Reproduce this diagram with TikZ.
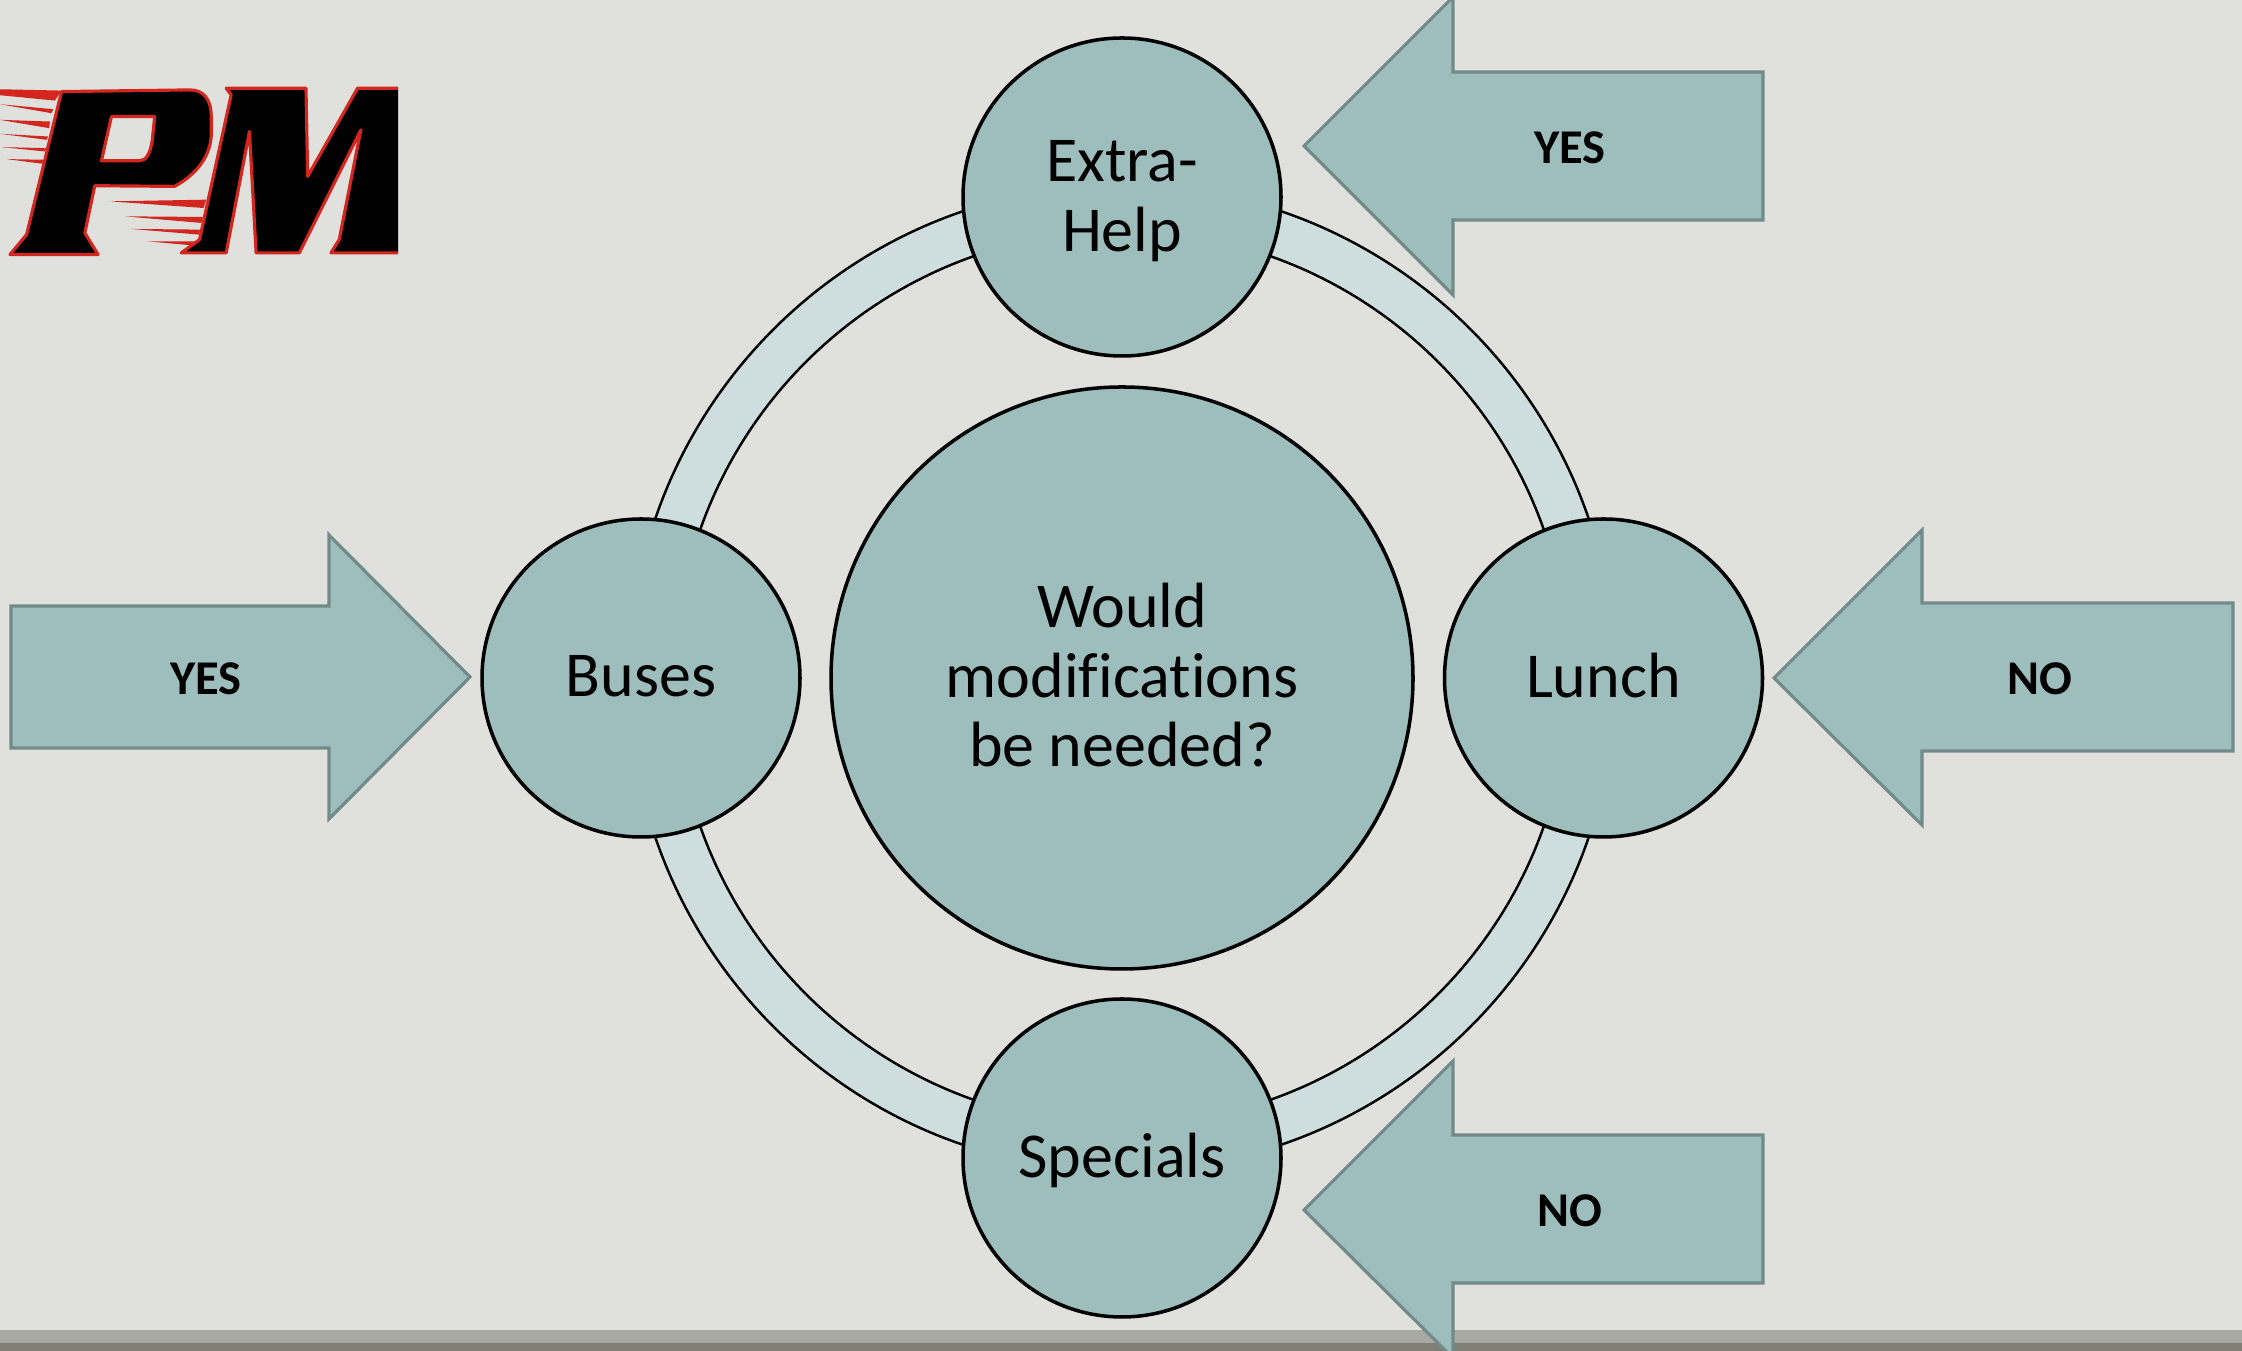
\documentclass[tikz,border=0pt]{standalone}
\usepackage{fontspec, tkz-euclide}
\setmainfont[Ligatures=NoCommon]{Carlito}
\definecolor{pagebg}{HTML}{E0E1DC}
\definecolor{tealfill}{HTML}{9DBEBD}
\definecolor{tealline}{HTML}{728A89}
\definecolor{ringfill}{HTML}{CEDEDE}
\definecolor{logored}{HTML}{D2261F}
\definecolor{barlight}{HTML}{A9A9A3}
\definecolor{bardark}{HTML}{7F7F75}
\tikzset{
  bigtext/.style={font=\fontsize{18.2}{19.9}\selectfont, align=center},
  topic/.style={circle, draw=black, line width=1pt, fill=tealfill, inner sep=0pt, minimum size=3.18cm, bigtext},
  answer/.style={font=\fontsize{13.8}{16}\selectfont\bfseries},
  arrowbox/.style={draw=tealline, line width=0.9pt, fill=tealfill, line join=miter},
  logoline/.style={draw=logored, line width=0.9pt, fill=black, line join=round}
}
\begin{document}
\begin{tikzpicture}
\useasboundingbox (0,0) rectangle (22.42,13.51);
\fill[pagebg] (0,0) rectangle (22.42,13.51);
\fill[barlight] (0,0) rectangle (22.42,0.21);
\fill[bardark] (0,0) rectangle (22.42,0.08);
\tkzDefPoints{11.22/6.73/O}
\draw[fill=ringfill, even odd rule, line width=0.7pt] (O) circle (4.93) (O) circle (4.47);
\node[topic, minimum size=5.82cm] (center) at (O) {Would\\modifications\\be needed?\rule[-1.8pt]{0pt}{0pt}};
\node[topic] (help) at (11.22,11.54) {\rule{0pt}{14.2pt}Extra-\\Help};
\node[topic] (specials) at (11.22,1.93) {\rule{0pt}{14pt}Specials};
\node[topic] (buses) at (6.41,6.73) {Buses\rule[-1pt]{0pt}{0pt}};
\node[topic] (lunch) at (16.035,6.73) {Lunch\rule[-1.5pt]{0pt}{0pt}};
\tkzDefPoints{13.04/12.05/Ta, 14.53/13.54/Tb, 14.53/12.79/Tc, 17.63/12.79/Td, 17.63/11.31/Te, 14.53/11.31/Tf, 14.53/10.56/Tg}
\tkzDefPoints{13.04/1.41/Ba, 14.53/2.90/Bb, 14.53/2.16/Bc, 17.63/2.16/Bd, 17.63/0.68/Be, 14.53/0.68/Bf, 14.53/-0.07/Bg}
\tkzDefPoints{17.74/6.73/Ra, 19.22/8.21/Rb, 19.22/7.48/Rc, 22.33/7.48/Rd, 22.33/6.00/Re, 19.22/6.00/Rf, 19.22/5.26/Rg}
\tkzDefPoints{4.70/6.74/La, 3.29/8.16/Lb, 3.29/7.45/Lc, 0.11/7.45/Ld, 0.11/6.03/Le, 3.29/6.03/Lf, 3.29/5.32/Lg}
\tkzDrawPolygon[arrowbox](Ta,Tb,Tc,Td,Te,Tf,Tg)
\tkzDrawPolygon[arrowbox](Ba,Bb,Bc,Bd,Be,Bf,Bg)
\tkzDrawPolygon[arrowbox](Ra,Rb,Rc,Rd,Re,Rf,Rg)
\tkzDrawPolygon[arrowbox](La,Lb,Lc,Ld,Le,Lf,Lg)
\node[answer] (yestop) at (15.70,12.03) {YES};
\node[answer] (nobottom) at (15.70,1.40) {NO};
\node[answer] (noright) at (20.40,6.72) {NO};
\node[answer] (yesleft) at (2.06,6.72) {YES};
\begin{scope}[shift={(0,12.91)}, x=0.00333cm, y=-0.00333cm]
\clip (0,0) rectangle (1197,620);
\fill[logored] (0,88) -- (185,92) -- (165,122) -- (0,106) -- cycle;
\fill[logored] (0,133) -- (160,148) -- (155,160) -- cycle;
\fill[logored] (0,180) -- (150,185) -- (148,205) -- cycle;
\fill[logored] (0,222) -- (145,230) -- (140,240) -- cycle;
\fill[logored] (5,262) -- (138,265) -- (135,275) -- cycle;
\fill[logored] (20,298) -- (130,300) -- (128,312) -- cycle;
\fill[logored] (330,425) -- (620,420) -- (612,445) -- cycle;
\fill[logored] (375,470) -- (610,472) -- (605,490) -- cycle;
\fill[logored] (395,508) -- (602,510) -- (598,525) -- cycle;
\fill[logored] (440,545) -- (595,545) -- (585,558) -- cycle;
\path[logoline, even odd rule]
  (185,95) -- (570,90) .. controls (610,90) and (635,115) .. (635,170) -- (635,230) .. controls (630,300) and (580,350) .. (525,380) -- (285,378) -- (255,520) -- (295,585) -- (30,585) -- (80,525) -- cycle
  (335,170) -- (465,170) -- (458,240) .. controls (452,280) and (440,303) .. (420,303) -- (305,303) -- cycle;
\path[logoline]
  (680,85) -- (920,85) -- (925,350) -- (1075,85) -- (1260,85) -- (1260,580) -- (995,580) -- (1020,540) -- (1085,210) -- (900,580) -- (770,580) -- (750,215) -- (680,580) -- (545,580) -- (600,540) -- (695,105) -- cycle;
\end{scope}
\end{tikzpicture}
\end{document}
